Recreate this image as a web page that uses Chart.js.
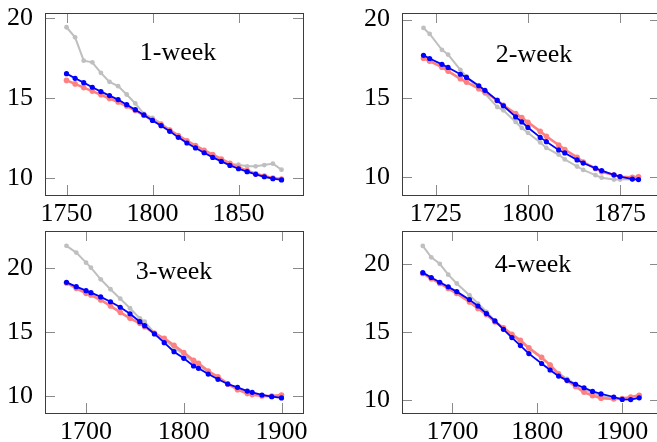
<!DOCTYPE html>
<html>
<head>
    <title>Weekly curves</title>
    <script src="https://cdn.jsdelivr.net/npm/chart.js"></script>
    <style>
body{
    margin: 0;
    background-color: #ffffff;
    width: 657px;
    height: 442px;
    overflow: hidden;
    position: relative;
}
canvas{
    position: absolute;
}
    </style>
</head>
<body>
    <canvas id="week1" width="330" height="250" style="left:0px;top:0px"></canvas>
    <canvas id="week2" width="330" height="250" style="left:357px;top:0px"></canvas>
    <canvas id="week3" width="330" height="250" style="left:0px;top:218px"></canvas>
    <canvas id="week4" width="330" height="250" style="left:357px;top:218px"></canvas>

    <script>
        // 1-week
        const week1X = [1750,1755,1760,1765,1770,1775,1780,1785,1790,1795,1800,1805,1810,1815,1820,1825,1830,1835,1840,1845,1850,1855,1860,1865,1870,1875];
        const week1Blue = [16.52,16.23,15.96,15.67,15.40,15.15,14.90,14.58,14.27,13.94,13.60,13.27,12.92,12.54,12.19,11.88,11.58,11.29,11.04,10.79,10.58,10.40,10.23,10.08,9.96,9.88];
        const week1Red = [16.10,15.88,15.65,15.43,15.20,14.97,14.75,14.50,14.22,13.92,13.62,13.32,13.00,12.66,12.33,12.03,11.74,11.46,11.19,10.92,10.67,10.46,10.27,10.12,10.00,9.93];
        const week1Gray = [19.42,18.79,17.33,17.23,16.57,16.01,15.74,15.22,14.66,14.01,13.76,13.42,13.00,12.62,12.27,11.97,11.67,11.38,11.12,10.90,10.83,10.73,10.73,10.81,10.90,10.52];

        // 2-week
        const week2X = [1715,1720,1730,1735,1745,1750,1760,1765,1775,1780,1790,1795,1800,1810,1815,1825,1830,1840,1845,1855,1860,1870,1875,1885,1890];
        const week2Blue = [17.73,17.53,17.16,16.96,16.53,16.33,15.80,15.51,14.87,14.53,13.82,13.50,13.15,12.52,12.25,11.72,11.53,11.09,10.89,10.56,10.41,10.14,10.03,9.87,9.84];
        const week2Red = [17.55,17.36,16.98,16.73,16.24,16.03,15.61,15.40,14.87,14.56,14.03,13.78,13.48,12.90,12.59,12.04,11.75,11.25,10.95,10.55,10.34,10.13,10.02,9.99,10.01];
        const week2Gray = [19.47,19.09,18.08,17.78,16.81,16.39,15.61,15.30,14.45,14.24,13.50,13.12,12.81,12.20,11.85,11.43,11.12,10.67,10.45,10.12,9.96,9.84,9.84,9.86,9.86];

        // 3-week
        const week3X = [1680,1690,1700,1705,1715,1725,1735,1745,1755,1760,1770,1780,1790,1800,1810,1815,1825,1835,1845,1855,1865,1870,1880,1890,1900];
        const week3Blue = [18.90,18.56,18.25,18.09,17.76,17.38,16.95,16.44,15.82,15.51,14.86,14.18,13.47,12.95,12.35,12.17,11.72,11.31,10.94,10.68,10.39,10.29,10.08,9.95,9.85];
        const week3Red = [18.85,18.43,18.04,17.91,17.52,17.05,16.55,16.08,15.69,15.43,14.91,14.52,13.98,13.40,12.80,12.56,11.95,11.51,10.95,10.50,10.19,10.11,10.00,9.99,10.08];
        const week3Gray = [21.76,21.23,20.44,20.05,19.14,18.36,17.62,16.87,16.08,15.82,14.95,14.40,13.80,13.25,12.65,12.40,11.88,11.42,10.95,10.60,10.28,10.18,10.04,9.98,9.92];

        // 4-week
        const week4X = [1665,1675,1685,1695,1705,1720,1730,1740,1750,1760,1770,1780,1790,1805,1815,1825,1835,1845,1855,1865,1875,1890,1900,1910,1920];
        const week4Blue = [19.39,19.03,18.68,18.34,17.99,17.40,16.93,16.37,15.83,15.21,14.60,14.01,13.42,12.69,12.21,11.76,11.45,11.16,10.90,10.63,10.45,10.22,10.04,10.03,10.16];
        const week4Red = [19.33,18.94,18.59,18.22,17.85,17.23,16.74,16.30,15.75,15.33,14.84,14.40,13.84,13.14,12.57,11.90,11.43,11.00,10.57,10.32,10.13,10.07,10.10,10.22,10.35];
        const week4Gray = [21.36,20.52,20.04,19.24,18.59,17.73,17.11,16.50,15.85,15.30,14.80,14.30,13.80,13.10,12.60,11.98,11.55,11.17,10.80,10.50,10.28,10.13,10.08,10.10,10.20];

        // tick labels
        const xTicks1 = [1750, 1800, 1850];
        const xTicks2 = [1725, 1800, 1875];
        const xTicks3 = [1700, 1800, 1900];
        const xTicks4 = [1700, 1800, 1900];
        const yTicks = [10, 15, 20];

        const FONT = "'Liberation Serif', 'DejaVu Serif', serif";

        // box + inward ticks on all sides, and the panel title
        const framePlugin = {
            id: 'frame',
            beforeDatasetsDraw(chart) {
                const {ctx, chartArea: a, scales: {x, y}} = chart;
                ctx.save();
                ctx.strokeStyle = '#8a8a8a';
                ctx.lineWidth = 1;
                ctx.beginPath();
                x.ticks.forEach(t => {
                    const px = Math.round(x.getPixelForValue(t.value)) + 0.5;
                    ctx.moveTo(px, a.bottom); ctx.lineTo(px, a.bottom - 10);
                    ctx.moveTo(px, a.top); ctx.lineTo(px, a.top + 10);
                });
                y.ticks.forEach(t => {
                    const py = Math.round(y.getPixelForValue(t.value)) + 0.5;
                    ctx.moveTo(a.left, py); ctx.lineTo(a.left + 10, py);
                    ctx.moveTo(a.right, py); ctx.lineTo(a.right - 10, py);
                });
                ctx.stroke();
                ctx.restore();
            },
            afterDraw(chart, args, opts) {
                const {ctx, chartArea: a} = chart;
                ctx.save();
                ctx.strokeStyle = '#3c3c3c';
                ctx.lineWidth = 1;
                ctx.strokeRect(Math.round(a.left) + 0.5, Math.round(a.top) + 0.5,
                    Math.round(a.right - a.left), Math.round(a.bottom - a.top));
                ctx.fillStyle = '#000';
                ctx.font = '26px ' + FONT;
                ctx.textAlign = 'center';
                ctx.textBaseline = 'middle';
                ctx.fillText(opts.title, a.left + opts.tx, a.top + opts.ty);
                ctx.restore();
            }
        };

        function pts(xs, ys) {
            return xs.map((v, i) => ({x: v, y: ys[i]}));
        }

        function makeChart(id, title, xs, blue, red, gray, xTicks, xr, yr, tx, ty) {
            new Chart(document.getElementById(id), {
                type: 'line',
                data: {
                    datasets: [
                        {
                            data: pts(xs, blue),
                            borderColor: '#0000ff',
                            backgroundColor: '#0000ff',
                            borderWidth: 1.8,
                            pointRadius: 2.6,
                            pointBorderWidth: 0
                        },
                        {
                            data: pts(xs, red),
                            borderColor: '#ff8080',
                            backgroundColor: '#ff8080',
                            borderWidth: 2.6,
                            pointRadius: 2.8,
                            pointBorderWidth: 0
                        },
                        {
                            data: pts(xs, gray),
                            borderColor: '#bfbfbf',
                            backgroundColor: '#bfbfbf',
                            borderWidth: 2,
                            pointRadius: 2.4,
                            pointBorderWidth: 0
                        }
                    ]
                },
                options: {
                    responsive: false,
                    animation: false,
                    devicePixelRatio: 1,
                    layout: {padding: {top: 13, right: 27, left: 0, bottom: 0}},
                    plugins: {
                        legend: {display: false},
                        tooltip: {enabled: false},
                        frame: {title: title, tx: tx, ty: ty}
                    },
                    scales: {
                        x: {
                            type: 'linear',
                            min: xr[0],
                            max: xr[1],
                            afterBuildTicks: s => { s.ticks = xTicks.map(v => ({value: v})); },
                            afterFit: s => { s.height = 55; s.paddingLeft = 0; s.paddingRight = 0; },
                            grid: {display: false, drawTicks: false},
                            border: {display: false},
                            ticks: {
                                padding: 4,
                                color: '#000',
                                font: {family: FONT, size: 26},
                                maxRotation: 0,
                                callback: v => String(v)
                            }
                        },
                        y: {
                            min: yr[0],
                            max: yr[1],
                            afterBuildTicks: s => { s.ticks = yTicks.map(v => ({value: v})); },
                            afterFit: s => { s.width = 45; s.paddingTop = 0; s.paddingBottom = 0; },
                            grid: {display: false, drawTicks: false},
                            border: {display: false},
                            ticks: {
                                padding: 12,
                                color: '#000',
                                font: {family: FONT, size: 26},
                                callback: v => String(v)
                            }
                        }
                    }
                },
                plugins: [framePlugin]
            });
        }

        makeChart('week1', '1-week', week1X, week1Blue, week1Red, week1Gray, xTicks1, [1737.5, 1887.5], [8.94, 20.31], 133, 40);
        makeChart('week2', '2-week', week2X, week2Blue, week2Red, week2Gray, xTicks2, [1697.5, 1907.5], [8.86, 20.42], 132, 42);
        makeChart('week3', '3-week', week3X, week3Blue, week3Red, week3Gray, xTicks3, [1658, 1922], [8.67, 22.92], 129, 41);
        makeChart('week4', '4-week', week4X, week4Blue, week4Red, week4Gray, xTicks4, [1640.5, 1944.5], [9.04, 22.46], 131, 34);
    </script>
</body>
</html>
